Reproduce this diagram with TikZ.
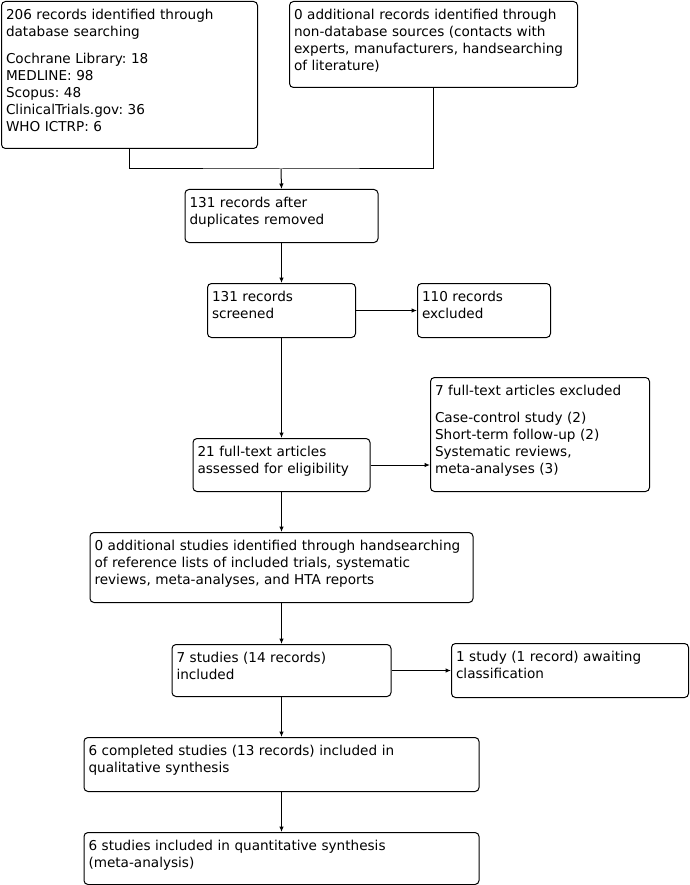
\documentclass[tikz,border=0pt]{standalone}
\usepackage{fontspec}
\setmainfont{DejaVu Sans}
\usetikzlibrary{positioning,arrows.meta}

\begin{document}
\frenchspacing
\begin{tikzpicture}[
    x=1pt,
    y=-1pt,
    font=\fontsize{13.6}{17}\selectfont,
    >={Latex[length=5.5pt,width=4.5pt]},
    box/.style={
        draw,
        line width=1pt,
        rounded corners=4pt,
        anchor=north west,
        align=left,
        inner xsep=4.5pt,
        inner ysep=5pt,
        text height=13pt
    },
    line/.style={
        line width=1pt
    },
    arrow/.style={
        ->,
        line width=1pt
    }
]
\useasboundingbox (0,0) rectangle (689,885);

\node[box, text width=247pt, text depth=124pt] (dbrec) at (1,1)
{206 records identified through\\database searching\\[10pt]
Cochrane Library: 18\\MEDLINE: 98\\Scopus: 48\\ClinicalTrials.gov: 36\\WHO ICTRP: 6};
\node[box, text width=279pt, text depth=63pt] (otherrec) at (289,1)
{0 additional records identified through\\non-database sources (contacts with\\experts, manufacturers, handsearching\\of literature)};

\node[box, text width=184pt, text depth=30pt] (dedup) at (184.5,189)
{131 records after\\duplicates removed};
\node[box, text width=139pt, text depth=31pt] (screen) at (207,283)
{131 records\\screened};
\node[box, text width=124pt, text depth=31pt] (excl) at (417,283)
{110 records\\excluded};

\node[box, text width=168pt, text depth=30pt] (fulltext) at (192.5,438)
{21 full-text articles\\assessed for eligibility};
\node[box, text width=210pt, text depth=91pt] (ftexcl) at (430,377)
{7 full-text articles excluded\\[10pt]
Case-control study (2)\\Short-term follow-up (2)\\Systematic reviews,\\meta-analyses (3)};

\node[box, text width=374pt, text depth=47pt] (handsearch) at (89.5,532)
{0 additional studies identified through handsearching\\of reference lists of included trials, systematic\\reviews, meta-analyses, and HTA reports};

\node[box, text width=210pt, text depth=29pt] (incl) at (171.5,644)
{7 studies (14 records)\\included};
\node[box, text width=228pt, text depth=31pt] (await) at (451,643)
{1 study (1 record) awaiting\\classification};

\node[box, text width=386pt, text depth=31pt] (qual) at (83.5,737)
{6 completed studies (13 records) included in\\qualitative synthesis};
\node[box, text width=386pt, text depth=29pt] (quant) at (83.5,832)
{6 studies included in quantitative synthesis\\(meta-analysis)};

\coordinate (merge) at (281,169);
\draw[line] (dbrec.south) |- (merge) -| (otherrec.south);
\draw[arrow] (merge) -- (dedup.north);

\draw[arrow] (dedup.south) -- (screen.north);
\draw[arrow] (screen.east) -- (excl.west |- screen.east);
\draw[arrow] (screen.south) -- (fulltext.north);
\draw[arrow] (fulltext.east) -- (ftexcl.west |- fulltext.east);
\draw[arrow] (fulltext.south) -- (handsearch.north);
\draw[arrow] (handsearch.south) -- (incl.north);
\draw[arrow] (incl.east) -- (await.west);
\draw[arrow] (incl.south) -- (qual.north);
\draw[arrow] (qual.south) -- (quant.north);

\end{tikzpicture}
\end{document}
